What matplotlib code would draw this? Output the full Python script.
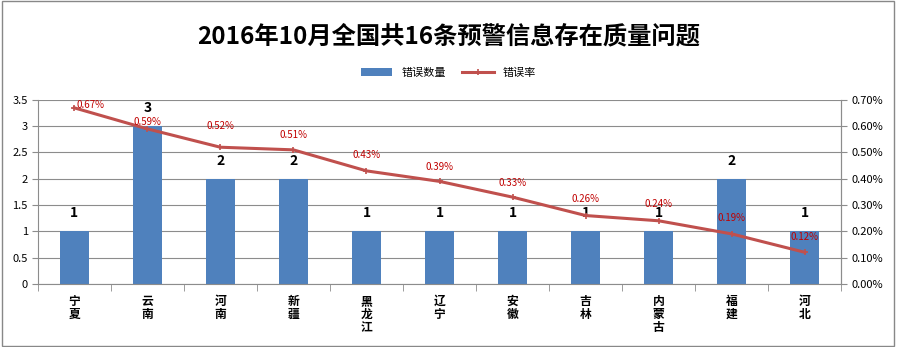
import numpy as np
import matplotlib.pyplot as plt
from matplotlib.patches import Rectangle

plt.rcParams['font.family'] = ['Noto Sans CJK SC', 'DejaVu Sans']

provinces = ['宁夏', '云南', '河南', '新疆', '黑龙江', '辽宁', '安徽', '吉林', '内蒙古', '福建', '河北']
err_count = [1, 3, 2, 2, 1, 1, 1, 1, 1, 2, 1]
err_rate = [0.67, 0.59, 0.52, 0.51, 0.43, 0.39, 0.33, 0.26, 0.24, 0.19, 0.12]  # percent

# label offsets (pixels) for the percentage labels, as placed in the original chart
lab_dx = [16, 0, 0, 0, 0, 0, 0, 0, 0, 0, 0]
lab_dy = [3, 7, 21, 15, 16, 14, 14, 17, 17, 16, 15]

fig = plt.figure(figsize=(8.97, 3.47), dpi=100)
fig.patches.append(Rectangle((0.002, 0.004), 0.995, 0.992, transform=fig.transFigure,
                             fill=False, edgecolor='#888888', linewidth=1))

ax = fig.add_axes([0.042, 0.182, 0.896, 0.530])
x = np.arange(len(provinces))

ax.bar(x, err_count, width=0.4, color='#4F81BD', label='错误数量', zorder=2)
for xi, v in zip(x, err_count):
    ax.annotate(str(v), (xi, v), xytext=(0, 11), textcoords='offset pixels',
                ha='center', va='bottom', fontsize=10, fontweight='bold')

ax.set_ylim(0, 3.5)
ax.set_yticks(np.arange(0, 3.51, 0.5))
ax.set_yticklabels(['0', '0.5', '1', '1.5', '2', '2.5', '3', '3.5'])
ax.set_xlim(-0.5, len(provinces) - 0.5)
ax.yaxis.grid(True, color='#8c8c8c', linewidth=0.8, zorder=0)
ax.set_axisbelow(True)
ax.tick_params(axis='y', length=4, color='#8c8c8c', labelsize=8, pad=3)
ax.set_xticks(x)
ax.set_xticklabels(['\n'.join(p) for p in provinces], fontsize=8.5, fontweight='bold',
                   linespacing=1.0, va='top')
ax.tick_params(axis='x', length=0, pad=8)
ax.set_xticks(np.arange(-0.5, len(provinces)), minor=True)
ax.tick_params(axis='x', which='minor', length=5, color='#8c8c8c')
ax.spines['top'].set_visible(False)
for s in ['left', 'right', 'bottom']:
    ax.spines[s].set_color('#8c8c8c')

ax2 = ax.twinx()
ax2.plot(x, err_rate, color='#C0504D', linewidth=2.2, marker='+', markersize=5,
         markeredgewidth=1.2, label='错误率', zorder=3)
ax2.set_ylim(0, 0.7)
ax2.set_yticks(np.arange(0, 0.71, 0.1))
ax2.set_yticklabels(['%.2f%%' % v for v in np.arange(0, 0.71, 0.1)])
ax2.tick_params(axis='y', length=4, color='#8c8c8c', labelsize=8, pad=3)
for s in ['top', 'left', 'bottom']:
    ax2.spines[s].set_visible(False)
ax2.spines['right'].set_color('#8c8c8c')
for xi, v, dx, dy in zip(x, err_rate, lab_dx, lab_dy):
    ax2.annotate('%.2f%%' % v, (xi, v), xytext=(dx, dy), textcoords='offset pixels',
                 ha='center', va='center', fontsize=7, color='#C00000', zorder=4)

fig.text(0.5, 0.895, '2016年10月全国共16条预警信息存在质量问题', ha='center', va='center',
         fontsize=17.5, fontweight='bold')

h1, l1 = ax.get_legend_handles_labels()
h2, l2 = ax2.get_legend_handles_labels()
fig.legend(h1 + h2, l1 + l2, loc='center', bbox_to_anchor=(0.5, 0.79), ncol=2,
           frameon=False, fontsize=8, handlelength=2.8, columnspacing=1.5)

fig.savefig('out.png', dpi=100)
